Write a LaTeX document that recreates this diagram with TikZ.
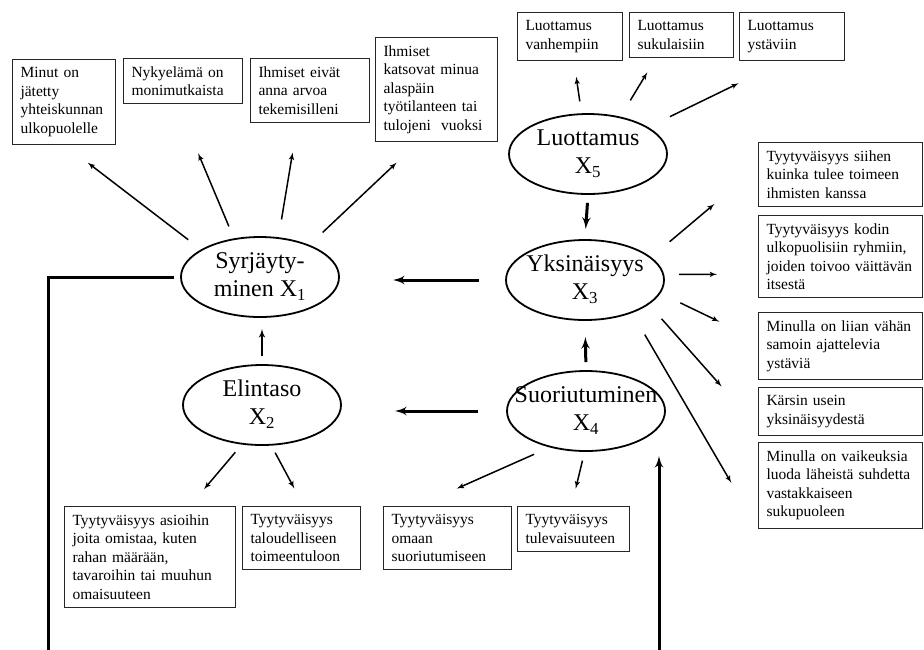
\documentclass[tikz,border=0pt]{standalone}
\usepackage{fontspec}
\setmainfont{Liberation Serif}
\usetikzlibrary{arrows,shapes.geometric}

\newcommand{\elltext}[2]{\makebox[0pt]{\begin{tabular}{@{}c@{}}#1\\#2\end{tabular}}}

\begin{document}
\begin{tikzpicture}[x=1pt,y=-1pt]
\tikzset{latent/.style = {shape=ellipse,draw,line width=1.8pt,minimum width=158pt,minimum height=80pt,inner sep=0pt,font=\fontsize{24}{28}\selectfont}}
\tikzset{indicator/.style = {shape=rectangle,draw=black!85,line width=1pt,anchor=north west,align=left,inner xsep=8pt,inner ysep=8pt,text width=#1,font=\fontsize{15.5}{18.5}\selectfont}}
\tikzset{edge/.style = {->,> = latex',line width=1.5pt}}
\tikzset{bold edge/.style = {->,> = latex',line width=3pt}}
\tikzset{feedback/.style = {line width=3pt}}

\useasboundingbox (0,0) rectangle (924,649);

% latent variables
\node[latent] (x1) at (260,277) {\elltext{Syrjäyty-}{minen X\textsubscript{1}}};
\node[latent] (x2) at (262,405) {\elltext{Elintaso}{X\textsubscript{2}}};
\node[latent] (x3) at (585,280) {\elltext{Yksinäisyys}{X\textsubscript{3}}};
\node[latent] (x4) at (586,411) {\elltext{Suoriutuminen}{X\textsubscript{4}}};
\node[latent] (x5) at (588,154) {\elltext{Luottamus}{X\textsubscript{5}}};

% indicators
\node[indicator=87pt]  (b1) at (12,59)  {Minut on\\jätetty\\yhteiskunnan\\ulkopuolelle};
\node[indicator=103pt] (b2) at (123,58) {Nykyelämä on\\monimutkaista};
\node[indicator=103pt] (b3) at (250,58) {Ihmiset eivät\\anna arvoa\\tekemisilleni};
\node[indicator=106pt] (b4) at (375,37) {Ihmiset\\katsovat minua\\alaspäin\\työtilanteen tai\\tulojeni\ \ vuoksi};

\node[indicator=89pt] (c1) at (517,12) {Luottamus\\vanhempiin};
\node[indicator=88pt] (c2) at (629,12) {Luottamus\\sukulaisiin};
\node[indicator=89pt] (c3) at (739,12) {Luottamus\\ystäviin};

\node[indicator=148pt] (d1) at (758,142) {Tyytyväisyys siihen\\kuinka tulee toimeen\\ihmisten kanssa};
\node[indicator=148pt] (d2) at (758,215) {Tyytyväisyys kodin\\ulkopuolisiin ryhmiin,\\joiden toivoo väittävän\\itsestä};
\node[indicator=148pt] (d3) at (758,312) {Minulla on liian vähän\\samoin ajattelevia\\ystäviä};
\node[indicator=148pt] (d4) at (758,387) {Kärsin usein\\yksinäisyydestä};
\node[indicator=148pt] (d5) at (758,442) {Minulla on vaikeuksia\\luoda läheistä suhdetta\\vastakkaiseen\\sukupuoleen};

\node[indicator=155pt] (e1) at (64,506)  {Tyytyväisyys asioihin\\joita omistaa, kuten\\rahan määrään,\\tavaroihin tai muuhun\\omaisuuteen};
\node[indicator=102pt] (e2) at (242,506) {Tyytyväisyys\\taloudelliseen\\toimeentuloon};
\node[indicator=112pt] (f1) at (383,506) {Tyytyväisyys\\omaan\\suoriutumiseen};
\node[indicator=96pt]  (f2) at (517,506) {Tyytyväisyys\\tulevaisuuteen};

\coordinate (fbl) at (48,660);
\coordinate (fbr) at (659,660);

% structural paths
\draw[bold edge, shorten <=26pt, shorten >=53pt] (x3.west) -- (x3.west -| x1.east);
\draw[bold edge, shorten <=28pt, shorten >=53pt] (x4.west) -- (x4.west -| x2.east);
\draw[bold edge, shorten <=8pt, shorten >=16pt] (x4.north) -- (x3.south);
\draw[bold edge, shorten <=8pt, shorten >=10pt] (x5.south) -- (x3.north);
\draw[edge, line width=2pt, shorten <=8pt, shorten >=11pt] (x2.north) -- (x2.north |- x1.south);

% feedback lines
\draw[feedback] ([xshift=-6pt]x1.west) -| (fbl);
\draw[bold edge, shorten >=4pt] (fbr) -- (fbr |- x4.south);

% loadings
\draw[edge, shorten <=16pt, shorten >=29pt] (x1.155) -- (b1.-89);
\draw[edge, shorten <=13pt, shorten >=53pt] (x1.124) -- (b2.-103);
\draw[edge, shorten <=18pt, shorten >=30pt] (x1.65) -- (b3.-111);
\draw[edge, shorten <=18pt, shorten >=30pt] (x1.33) -- (b4.-109);

\draw[edge, shorten <=12pt, shorten >=16pt] (x5.99) -- (c1.-81);
\draw[edge, shorten <=19pt, shorten >=17pt] (x5.49) -- (c2.-138);
\draw[edge, shorten <=24pt, shorten >=51pt] (x5.24) -- (c3.-107);

\draw[edge, shorten <=24pt, shorten >=57pt] (x3.19) -- (d1.175);
\draw[edge, shorten <=15pt, shorten >=41pt] (x3.4) -- (d2.-168);
\draw[edge, shorten <=22pt, shorten >=43pt] (x3.-10) -- (d3.176);
\draw[edge, shorten <=19pt, shorten >=55pt] (x3.-21) -- (d4.-169);
\draw[edge, shorten <=25pt, shorten >=53pt] (x3.-35) -- (d5.south west);

\draw[edge, shorten <=10pt, shorten >=22pt] (x2.-117) -- (e1.52);
\draw[edge, shorten <=8pt, shorten >=20pt] (x2.-77) -- (e2.86);
\draw[edge, shorten <=17pt, shorten >=43pt] (x4.-135) -- (f1.133);
\draw[edge, shorten <=9pt, shorten >=18pt] (x4.-92) -- (f2.95);

\end{tikzpicture}
\end{document}
